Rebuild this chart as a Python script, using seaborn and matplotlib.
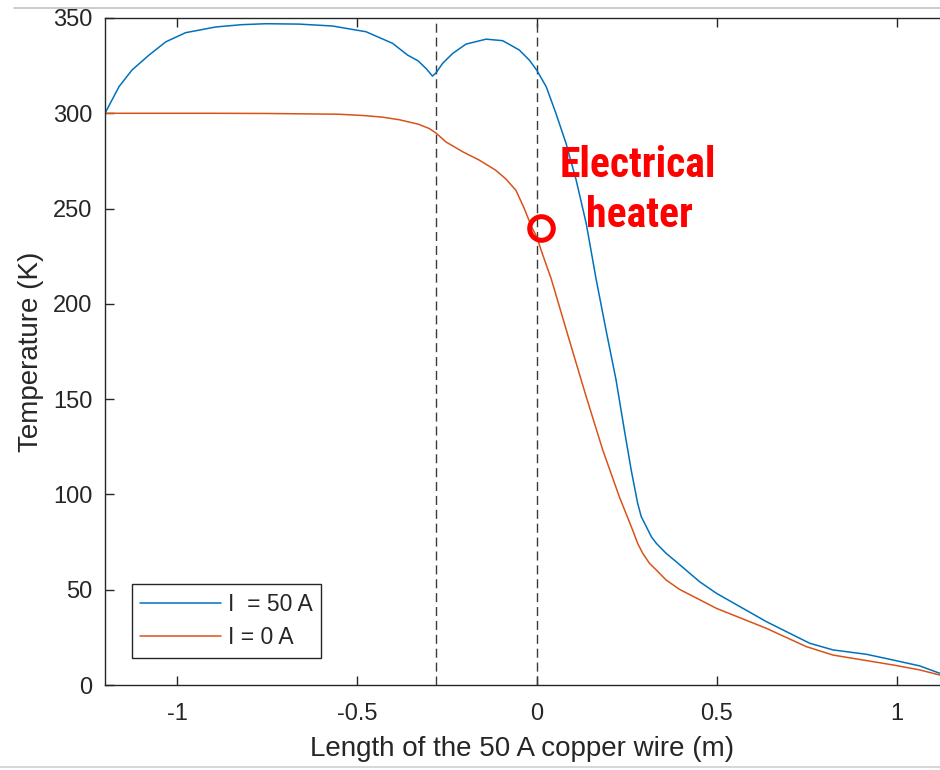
import matplotlib
matplotlib.use("Agg")
import matplotlib.pyplot as plt
from matplotlib.lines import Line2D
import seaborn as sns
import pandas as pd

# ---------------- data ----------------
x_50 = [-1.2, -1.161, -1.125, -1.078, -1.031, -0.976, -0.892, -0.82, -0.753, -0.661,
        -0.568, -0.475, -0.401, -0.359, -0.33, -0.308, -0.29, -0.28, -0.262, -0.234,
        -0.197, -0.141, -0.095, -0.049, -0.021, 0.0, 0.026, 0.053, 0.081, 0.109,
        0.137, 0.165, 0.192, 0.22, 0.243, 0.262, 0.28, 0.29, 0.304, 0.318,
        0.332, 0.359, 0.387, 0.452, 0.499, 0.638, 0.758, 0.823, 0.916, 0.99,
        1.064, 1.12]
T_50 = [300, 314, 322.7, 330.5, 337.5, 342.3, 345.3, 346.5, 347, 346.8,
        345.8, 342.8, 336.7, 330.5, 327.5, 323.5, 319.5, 321.3, 326.2, 331.4,
        336.3, 338.9, 338.1, 333.2, 327.9, 322.5, 313.9, 299.9, 284.2, 265,
        242.2, 212.5, 186.3, 160, 133.8, 112.8, 95.3, 88.3, 83.1, 77.8,
        74.3, 69.1, 64.7, 54.2, 48.1, 33.2, 21.9, 18.4, 16.1, 13.1,
        10.0, 6.1]

x_0 = [-1.2, -0.9, -0.75, -0.55, -0.48, -0.43, -0.382, -0.33, -0.299, -0.28,
       -0.253, -0.206, -0.16, -0.115, -0.086, -0.058, -0.035, -0.015, 0.0, 0.012,
       0.04, 0.09, 0.137, 0.183, 0.229, 0.266, 0.28, 0.294, 0.313, 0.332,
       0.359, 0.396, 0.499, 0.638, 0.749, 0.823, 0.99, 1.064, 1.12]
T_0 = [300, 300, 299.9, 299.5, 298.8, 298, 296.6, 294.3, 292, 289.6,
       285, 279.8, 275.4, 270.2, 265.5, 259.5, 250, 240.5, 235, 228,
       213, 181, 151.3, 123.3, 98.8, 81.3, 74.3, 69.1, 63.8, 60.3,
       55.1, 50.2, 40.2, 29.7, 20.1, 15.7, 10.5, 7.9, 5.2]

series_labels = ["I  = 50 A", "I = 0 A"]
series_colors = ["#0072BD", "#D95319"]
section_bounds = [-0.28, 0.0]
heater_x = [0.012]
heater_T = [239.6]
xticks = [-1, -0.5, 0, 0.5, 1]
xtick_labels = ["-1", "-0.5", "0", "0.5", "1"]
yticks = [0, 50, 100, 150, 200, 250, 300, 350]

df = pd.concat([
    pd.DataFrame({"x": x_50, "T": T_50, "case": series_labels[0]}),
    pd.DataFrame({"x": x_0, "T": T_0, "case": series_labels[1]}),
], ignore_index=True)

# ---------------- style ----------------
sns.set_style("white")
plt.rcParams["font.family"] = ["Liberation Sans", "DejaVu Sans"]
dark = "#262626"

W, H = 940, 770
fig = plt.figure(figsize=(W / 100, H / 100), dpi=100)
ax = fig.add_axes([105 / W, (H - 685) / H, (940 - 105) / W, (685 - 18) / H])

sns.lineplot(data=df, x="x", y="T", hue="case", palette=series_colors,
             sort=False, estimator=None, linewidth=1.1, ax=ax, legend=False)

for xb in section_bounds:
    ax.axvline(xb, color="#3a3a3a", linewidth=1.0, linestyle=(0, (6.5, 3.5)), zorder=1)

ax.plot(heater_x, heater_T, linestyle="none", marker="o", markersize=17,
        markerfacecolor="none", markeredgecolor="#FF0000", markeredgewidth=3.6, zorder=5)

txt_font = dict(family=["Liberation Sans Narrow", "Roboto Condensed", "Roboto"],
                fontweight="bold", fontsize=30, color="#FF0000")
ax.text(0.28, 266.5, "Electrical", ha="center", va="baseline", **txt_font)
ax.text(0.286, 240.4, "heater", ha="center", va="baseline", **txt_font)

ax.set_xlim(-1.2, 1.12)
ax.set_ylim(0, 350)
ax.set_xticks(xticks)
ax.set_xticklabels(xtick_labels)
ax.set_yticks(yticks)

ax.tick_params(axis="both", direction="in", length=6.5, width=1.0, color=dark,
               labelcolor=dark, labelsize=17)
ax.tick_params(axis="x", top=True, bottom=True, pad=13)
ax.tick_params(axis="y", left=True, right=False, pad=9)
for side in ["left", "bottom", "top"]:
    ax.spines[side].set_color(dark)
    ax.spines[side].set_linewidth(1.0)
ax.spines["right"].set_visible(False)

ax.set_xlabel("Length of the 50 A copper wire (m)", fontsize=20, color=dark, labelpad=8)
ax.set_ylabel("Temperature (K)", fontsize=20, color=dark, labelpad=6.5)

handles = [Line2D([], [], color=c, linewidth=1.1) for c in series_colors]
leg = ax.legend(handles, series_labels, loc="lower left",
                bbox_to_anchor=(0.032, 0.0405), borderaxespad=0,
                fontsize=16.5, frameon=True, fancybox=False, framealpha=1,
                edgecolor=dark, handlelength=3.5, handletextpad=0.3,
                borderpad=0.38, labelspacing=0.45)
leg.get_frame().set_linewidth(1.0)
for t in leg.get_texts():
    t.set_color(dark)

# screenshot border lines
fig.add_artist(Line2D([14 / W, 1.0], [(H - 8) / H, (H - 8) / H],
                      transform=fig.transFigure, color="#c4c4c4", linewidth=1.2))
fig.add_artist(Line2D([0.0, 1.0], [(H - 767) / H, (H - 767) / H],
                      transform=fig.transFigure, color="#d0d0d0", linewidth=1.2))

fig.savefig("out.png", dpi=100)
